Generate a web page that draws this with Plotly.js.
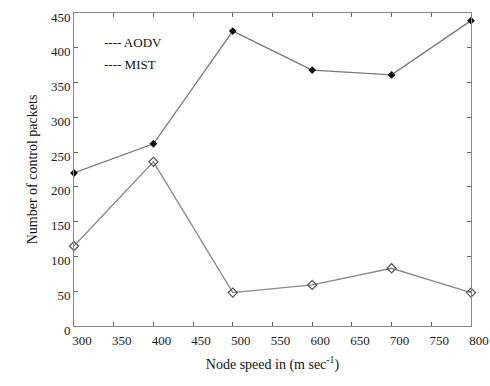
<!DOCTYPE html>
<html><head><meta charset="utf-8">
<script src="https://cdn.plot.ly/plotly-3.0.1.min.js"></script>
<style>body{margin:0;padding:0;background:#fff}#chart{width:490px;height:386px}</style>
</head><body><div id="chart"></div>
<script>
var speeds = [300, 400, 500, 600, 700, 800];
var aodv = [220, 262, 424, 368, 361, 439];
var mist = [115, 236, 48, 59, 83, 48];
var xTicks = [300, 350, 400, 450, 500, 550, 600, 650, 700, 750, 800];
var yTicks = [0, 50, 100, 150, 200, 250, 300, 350, 400, 450];
var legendNames = ['AODV', 'MIST'];

var traces = [
  {x: speeds, y: aodv, name: legendNames[0], mode: 'lines+markers', cliponaxis: false,
   line: {color: '#777', width: 1.3},
   marker: {symbol: 'diamond', size: 6, color: '#111'}},
  {x: speeds, y: mist, name: legendNames[1], mode: 'lines+markers', cliponaxis: false,
   line: {color: '#888', width: 1.3},
   marker: {symbol: 'diamond-open', size: 7, color: '#555', line: {width: 1.2}}}
];

var fontFam = 'Liberation Serif, Times New Roman, serif';
var layout = {
  width: 490, height: 386,
  margin: {l: 74, r: 19, t: 13, b: 60},
  paper_bgcolor: '#fff', plot_bgcolor: '#fff',
  showlegend: false,
  font: {family: fontFam, color: '#222', size: 13},
  xaxis: {range: [300, 800], tickvals: xTicks, ticktext: xTicks.map(String),
    showgrid: false, zeroline: false, showline: true, linecolor: '#888', linewidth: 1,
    mirror: 'ticks', ticks: 'inside', ticklen: 4, tickcolor: '#666',
    ticklabelshift: 8, ticklabelstandoff: 2,
    tickfont: {family: fontFam, size: 13, color: '#222'},
    title: {text: 'Node speed in (m sec<sup>-1</sup>)', font: {family: fontFam, size: 14, color: '#111'}, standoff: 12}},
  yaxis: {range: [0, 450], tickvals: yTicks, ticktext: yTicks.map(String),
    showgrid: false, zeroline: false, showline: true, linecolor: '#888', linewidth: 1,
    mirror: 'ticks', ticks: 'inside', ticklen: 4, tickcolor: '#666',
    ticklabelshift: 4,
    tickfont: {family: fontFam, size: 13, color: '#222'},
    title: {text: 'Number of control packets', font: {family: fontFam, size: 14, color: '#111'}, standoff: 10}},
  annotations: [
    {xref: 'paper', yref: 'paper', x: 0.07, y: 0.905, xanchor: 'left', yanchor: 'middle', showarrow: false,
     text: '---- ' + legendNames[0], font: {family: fontFam, size: 13, color: '#111'}},
    {xref: 'paper', yref: 'paper', x: 0.07, y: 0.835, xanchor: 'left', yanchor: 'middle', showarrow: false,
     text: '---- ' + legendNames[1], font: {family: fontFam, size: 13, color: '#111'}}
  ]
};
Plotly.newPlot('chart', traces, layout, {displayModeBar: false, staticPlot: true});
</script></body></html>
